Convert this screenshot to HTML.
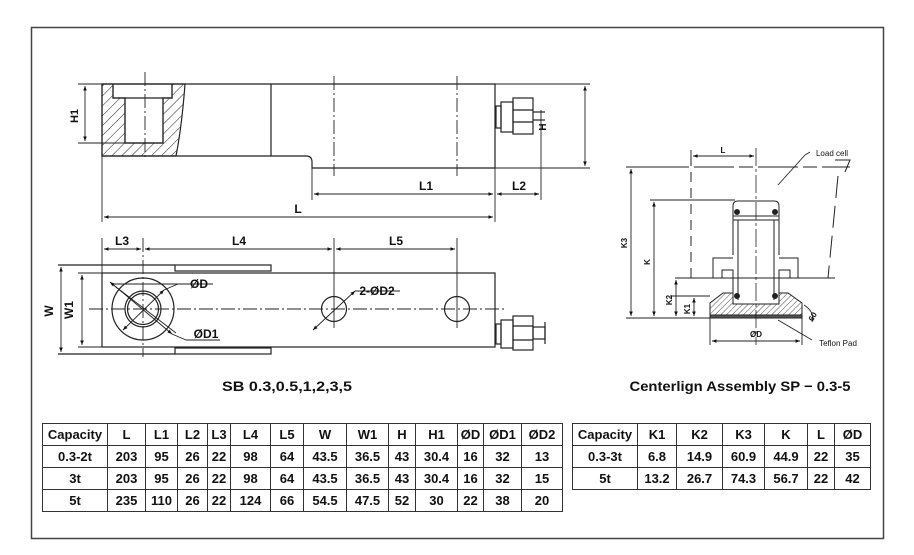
<!DOCTYPE html>
<html><head><meta charset="utf-8"><style>
html,body{margin:0;padding:0;background:#fff;}
svg{display:block;font-family:"Liberation Sans",sans-serif;}
table{position:absolute;border-collapse:collapse;table-layout:fixed;font-family:"Liberation Sans",sans-serif;font-weight:bold;font-size:13px;color:#111;}
td{border:1.3px solid #333;text-align:center;padding:0;height:21px;overflow:hidden;white-space:nowrap;}
</style></head><body>
<div style="position:relative;width:914px;height:555px;overflow:hidden;">
<svg width="914" height="555" viewBox="0 0 914 555">
<defs>
<pattern id="h" width="7" height="7" patternUnits="userSpaceOnUse" patternTransform="rotate(45)"><line x1="0" y1="0" x2="0" y2="7" stroke="#222" stroke-width="1"/></pattern>
<pattern id="h2" width="4" height="4" patternUnits="userSpaceOnUse" patternTransform="rotate(45)"><line x1="0" y1="0" x2="0" y2="4" stroke="#222" stroke-width="0.8"/></pattern>
<marker id="a" viewBox="0 0 10 10" refX="10" refY="5" markerWidth="7" markerHeight="5" orient="auto-start-reverse"><path d="M0,1 L10,5 L0,9z" fill="#111"/></marker>
</defs>
<rect x="31.5" y="27.5" width="852" height="511" fill="none" stroke="#444" stroke-width="1.5"/>
<g stroke="#222" stroke-width="1.2" fill="none">
<path d="M102,84 H495 V168 H312 V162 Q312,156 306,156 H102 Z" fill="#fff"/>
<path d="M102,84 H185 Q182,125 176,156 H102 Z M113,84 V98 H125 V143 H163 V98 H172 V84 Z" fill="url(#h)" fill-rule="evenodd"/>
<path d="M113,84 V98 H125 V143 H163 V98 H172 V84"/>
<line x1="125" y1="98" x2="163" y2="98"/>
<line x1="271" y1="84" x2="271" y2="156"/>
<line x1="145" y1="72" x2="145" y2="158" stroke-dasharray="14,3,2,3" stroke-width="0.9"/>
<line x1="334" y1="76" x2="334" y2="176" stroke-dasharray="14,3,2,3" stroke-width="0.9"/>
<line x1="457" y1="76" x2="457" y2="176" stroke-dasharray="14,3,2,3" stroke-width="0.9"/>
<rect x="496" y="106" width="5" height="22"/><rect x="501" y="102" width="12" height="30"/><rect x="513" y="98" width="20" height="36"/>
<line x1="513" y1="110" x2="533" y2="110"/><line x1="513" y1="122" x2="533" y2="122"/>
<line x1="533" y1="112" x2="545" y2="112"/><line x1="533" y1="120" x2="545" y2="120"/>
<g stroke-width="0.9">
<line x1="78" y1="84" x2="102" y2="84"/><line x1="78" y1="143" x2="125" y2="143"/>
<line x1="85" y1="86" x2="85" y2="141" marker-start="url(#a)" marker-end="url(#a)"/>
<line x1="495" y1="84" x2="590" y2="84"/><line x1="495" y1="168" x2="590" y2="168"/>
<line x1="585" y1="86" x2="585" y2="166" marker-start="url(#a)" marker-end="url(#a)"/>
<line x1="312" y1="168" x2="312" y2="200"/><line x1="495" y1="168" x2="495" y2="222"/>
<line x1="541" y1="110" x2="541" y2="200"/><line x1="102" y1="156" x2="102" y2="222"/>
<line x1="314" y1="194" x2="493" y2="194" marker-start="url(#a)" marker-end="url(#a)"/>
<line x1="497" y1="194" x2="539" y2="194" marker-start="url(#a)" marker-end="url(#a)"/>
<line x1="104" y1="217" x2="493" y2="217" marker-start="url(#a)" marker-end="url(#a)"/>
</g>
<rect x="102" y="273" width="393" height="74" fill="#fff"/>
<line x1="58" y1="265" x2="175" y2="265"/><line x1="58" y1="354" x2="175" y2="354"/>
<rect x="175" y="265" width="96" height="6"/><rect x="175" y="348" width="96" height="6"/>
<line x1="78" y1="273" x2="102" y2="273" stroke-width="0.9"/><line x1="78" y1="347" x2="102" y2="347" stroke-width="0.9"/>
<circle cx="143" cy="309" r="31"/><circle cx="143" cy="309" r="18"/><circle cx="143" cy="309" r="15.5"/>
<circle cx="334" cy="309" r="12.5"/><circle cx="457" cy="309" r="12.5"/>
<line x1="89" y1="309" x2="507" y2="309" stroke-dasharray="14,3,2,3" stroke-width="0.9"/>
<line x1="143" y1="238" x2="143" y2="357" stroke-dasharray="14,3,2,3" stroke-width="0.9"/>
<line x1="334" y1="238" x2="334" y2="328" stroke-width="0.9"/>
<line x1="457" y1="238" x2="457" y2="328" stroke-width="0.9"/>
<line x1="102" y1="238" x2="102" y2="273" stroke-width="0.9"/>
<g stroke-width="0.9">
<line x1="112" y1="284" x2="213" y2="284"/><line x1="112" y1="284" x2="176" y2="333"/>
<line x1="110" y1="282" x2="172" y2="334" marker-start="url(#a)" marker-end="url(#a)"/>
<line x1="172" y1="334" x2="186" y2="340"/><line x1="186" y1="340" x2="220" y2="340"/>
<line x1="123" y1="330" x2="164" y2="290" marker-start="url(#a)" marker-end="url(#a)"/>
<line x1="164" y1="290" x2="178" y2="284"/>
<line x1="313" y1="330" x2="355" y2="291" marker-start="url(#a)" marker-end="url(#a)"/><line x1="355" y1="291" x2="400" y2="291"/>
<line x1="104" y1="249" x2="141" y2="249" marker-start="url(#a)" marker-end="url(#a)"/>
<line x1="145" y1="249" x2="332" y2="249" marker-start="url(#a)" marker-end="url(#a)"/>
<line x1="336" y1="249" x2="455" y2="249" marker-start="url(#a)" marker-end="url(#a)"/>
<line x1="61" y1="267" x2="61" y2="352" marker-start="url(#a)" marker-end="url(#a)"/>
<line x1="82" y1="275" x2="82" y2="345" marker-start="url(#a)" marker-end="url(#a)"/>
</g>
<rect x="496" y="324" width="5" height="20"/><rect x="501" y="320" width="12" height="28"/><rect x="513" y="316" width="20" height="34"/>
<line x1="513" y1="326" x2="533" y2="326"/><line x1="513" y1="340" x2="533" y2="340"/>
<rect x="533" y="327" width="12" height="12"/><line x1="545" y1="322" x2="545" y2="344"/>
<g stroke-width="1">
<line x1="630" y1="167" x2="850" y2="167" stroke-dasharray="40,5,14,5"/>
<path d="M835,160 L850,160 L845,172" />
<path d="M838,176 L828,278" stroke-dasharray="22,8"/>
<line x1="675" y1="278" x2="835" y2="278"/>
<line x1="691" y1="156" x2="691" y2="278" stroke-dasharray="10,6"/>
<path d="M733,255 V206 Q733,201 738,201 H774 Q779,201 779,206 V255"/>
<line x1="733" y1="216" x2="779" y2="216"/><line x1="733" y1="220" x2="779" y2="220"/>
<line x1="738" y1="220" x2="738" y2="300"/><line x1="774" y1="220" x2="774" y2="300"/>
<circle cx="737" cy="212" r="2.5" fill="#222"/><circle cx="775" cy="212" r="2.5" fill="#222"/>
<path d="M713,278 V258 H733 M779,258 H798 V278"/>
<path d="M722,278 V270 H733 V300 M790,278 V270 H779 V300"/>
<path d="M723,293 H733 V304 H779 V293 H788 L802,303 V315 H710 V303 Z" fill="url(#h2)"/>
<line x1="733" y1="293" x2="733" y2="304"/>
<circle cx="737" cy="296" r="2.5" fill="#222"/><circle cx="775" cy="296" r="2.5" fill="#222"/>
<rect x="710" y="315" width="92" height="3" fill="#555"/>
<line x1="756" y1="148" x2="756" y2="345" stroke-dasharray="18,3,3,3" stroke-width="0.8"/>
<g stroke-width="0.9">
<line x1="626" y1="167" x2="675" y2="167"/>
<line x1="650" y1="200" x2="735" y2="200"/>
<line x1="626" y1="318" x2="710" y2="318"/>
<line x1="670" y1="296" x2="710" y2="296"/>
<line x1="691" y1="150" x2="691" y2="160"/>
<line x1="693" y1="156" x2="754" y2="156" marker-start="url(#a)" marker-end="url(#a)"/>
<line x1="631" y1="169" x2="631" y2="316" marker-start="url(#a)" marker-end="url(#a)"/>
<line x1="654" y1="202" x2="654" y2="316" marker-start="url(#a)" marker-end="url(#a)"/>
<line x1="676" y1="280" x2="676" y2="316" marker-start="url(#a)" marker-end="url(#a)"/>
<line x1="694" y1="298" x2="694" y2="316" marker-start="url(#a)" marker-end="url(#a)"/>
<line x1="710" y1="318" x2="710" y2="345"/><line x1="802" y1="318" x2="802" y2="345"/>
<line x1="712" y1="341" x2="800" y2="341" marker-start="url(#a)" marker-end="url(#a)"/>
<line x1="778" y1="320" x2="812" y2="340"/>
<line x1="778" y1="185" x2="805" y2="155"/><line x1="805" y1="155" x2="810" y2="152"/>
<path d="M804,305 Q815,312 812,322" />
</g>
</g>
</g>
<g font-size="11" fill="#111" font-weight="bold" text-anchor="middle">
<text x="78" y="116" transform="rotate(-90 78 116)">H1</text>
<text x="546" y="127" transform="rotate(-90 546 127)" font-size="10">H</text>
<text x="426" y="190" font-size="12">L1</text>
<text x="519" y="190" font-size="12">L2</text>
<text x="298" y="213" font-size="12">L</text>
<text x="122" y="245" font-size="12">L3</text>
<text x="239" y="245" font-size="12">L4</text>
<text x="396" y="245" font-size="12">L5</text>
<text x="53" y="311" transform="rotate(-90 53 311)" font-size="12">W</text>
<text x="73" y="310" transform="rotate(-90 73 310)" font-size="12">W1</text>
<text x="199" y="288" font-size="12">ØD</text>
<text x="206" y="338" font-size="12">ØD1</text>
<text x="377" y="295" font-size="12">2-ØD2</text>
<text x="287" y="391" font-size="14" textLength="130" lengthAdjust="spacingAndGlyphs">SB 0.3,0.5,1,2,3,5</text>
<text x="740" y="391" font-size="14" textLength="221" lengthAdjust="spacingAndGlyphs">Centerlign Assembly SP − 0.3-5</text>
<g font-size="8">
<text x="723" y="153">L</text>
<text x="627" y="243" transform="rotate(-90 627 243)">K3</text>
<text x="650" y="262" transform="rotate(-90 650 262)">K</text>
<text x="672" y="300" transform="rotate(-90 672 300)">K2</text>
<text x="690" y="309" transform="rotate(-90 690 309)">K1</text>
<text x="756" y="337">ØD</text>
<text x="832" y="156" font-weight="normal">Load cell</text>
<text x="838" y="346" font-weight="normal">Teflon Pad</text>
<text x="815" y="318" transform="rotate(-60 815 318)">60</text>
</g>
</g>
</svg>
<table style="left:42px;top:423px;width:520px;">
<colgroup><col style="width:65px"><col style="width:38px"><col style="width:32px"><col style="width:30px"><col style="width:23px"><col style="width:40px"><col style="width:33px"><col style="width:43px"><col style="width:42px"><col style="width:27px"><col style="width:42px"><col style="width:26px"><col style="width:38px"><col style="width:41px"></colgroup>
<tr><td>Capacity</td><td>L</td><td>L1</td><td>L2</td><td>L3</td><td>L4</td><td>L5</td><td>W</td><td>W1</td><td>H</td><td>H1</td><td>ØD</td><td>ØD1</td><td>ØD2</td></tr>
<tr><td>0.3-2t</td><td>203</td><td>95</td><td>26</td><td>22</td><td>98</td><td>64</td><td>43.5</td><td>36.5</td><td>43</td><td>30.4</td><td>16</td><td>32</td><td>13</td></tr>
<tr><td>3t</td><td>203</td><td>95</td><td>26</td><td>22</td><td>98</td><td>64</td><td>43.5</td><td>36.5</td><td>43</td><td>30.4</td><td>16</td><td>32</td><td>15</td></tr>
<tr><td>5t</td><td>235</td><td>110</td><td>26</td><td>22</td><td>124</td><td>66</td><td>54.5</td><td>47.5</td><td>52</td><td>30</td><td>22</td><td>38</td><td>20</td></tr>
</table>
<table style="left:572px;top:423px;width:298px;">
<colgroup><col style="width:65px"><col style="width:39px"><col style="width:46px"><col style="width:42px"><col style="width:43px"><col style="width:27px"><col style="width:36px"></colgroup>
<tr><td>Capacity</td><td>K1</td><td>K2</td><td>K3</td><td>K</td><td>L</td><td>ØD</td></tr>
<tr><td>0.3-3t</td><td>6.8</td><td>14.9</td><td>60.9</td><td>44.9</td><td>22</td><td>35</td></tr>
<tr><td>5t</td><td>13.2</td><td>26.7</td><td>74.3</td><td>56.7</td><td>22</td><td>42</td></tr>
</table>
</div>
</body></html>
